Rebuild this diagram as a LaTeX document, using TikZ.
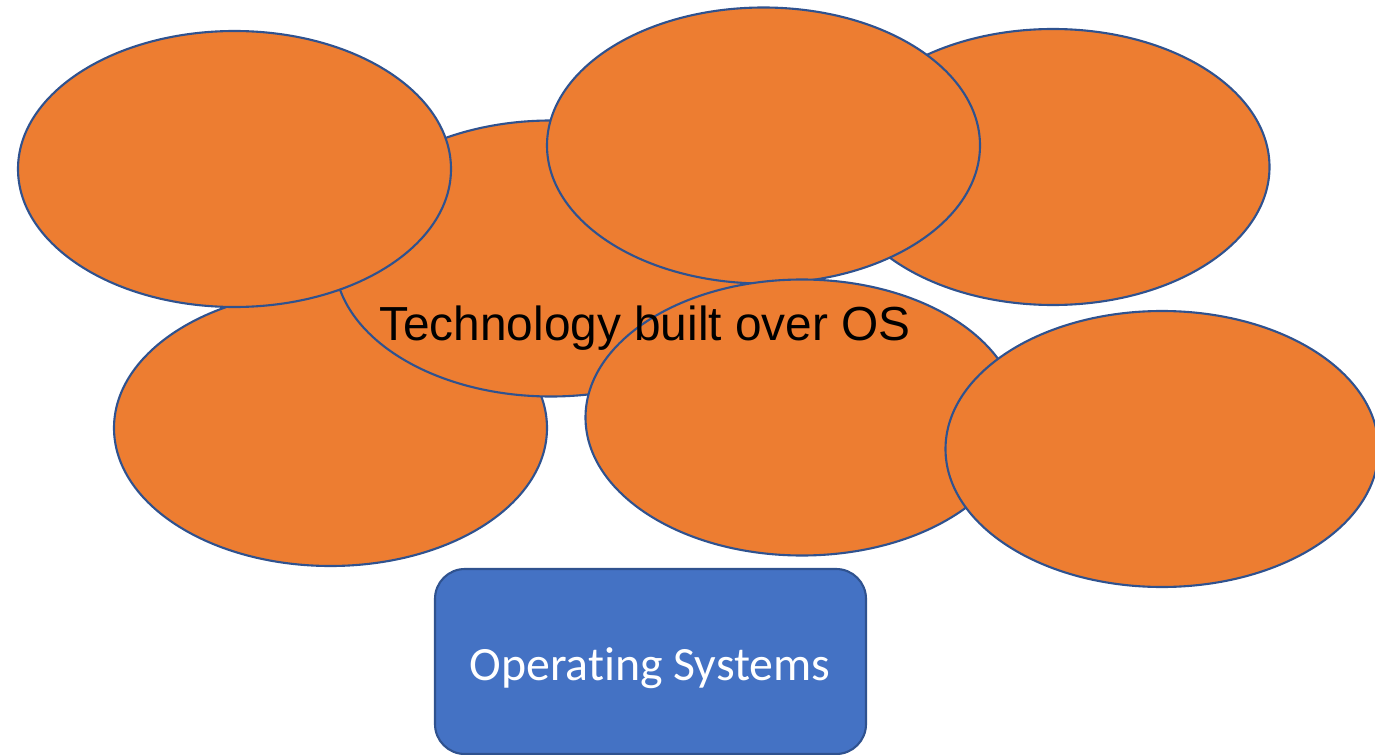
\documentclass[tikz,border=0pt]{standalone}
\usepackage{fontspec}
\usepackage{xcolor}
\usepackage{tikz}
\usetikzlibrary{positioning,shapes.geometric}

\newfontfamily\techfont{Liberation Sans}
\newfontfamily\osfont[Ligatures=NoCommon]{Carlito}

\definecolor{blobfill}{HTML}{ED7D31}
\definecolor{blobline}{HTML}{2F528F}
\definecolor{osfill}{HTML}{4472C4}

\begin{document}
\begin{tikzpicture}[
    blob/.style   ={ellipse, draw=blobline, fill=blobfill, line width=1.2pt,
                    minimum width=8.66cm, minimum height=5.52cm, inner sep=0pt},
    osbox/.style  ={draw=blobline, fill=osfill, line width=1.2pt, rounded corners=17pt,
                    minimum width=8.62cm, minimum height=3.70cm, inner sep=0pt},
    techlbl/.style={font=\techfont\fontsize{27.2}{32}\selectfont, text=black, anchor=base},
    oslbl/.style  ={font=\osfont\fontsize{27.2}{32}\selectfont, text=white, anchor=base}
]
\useasboundingbox (0,0) rectangle (27.5,-15.1);

% --- Technology blobs, back to front. ---
\node[blob] (lowleft)  at ( 6.61,-8.56) {};
\node[blob] (core)     at (11.02,-5.17) {};
\node[blob] (upleft)   at ( 4.69,-3.38) {};
\node[blob] (upright)  at (21.06,-3.34) {};
\node[blob] (upmid)    at (15.27,-2.91) {};
\node[blob] (lowmid)   at (16.04,-8.35) {};
\node[blob] (lowright) at (23.24,-8.98) {};

% --- Label sits on top of every blob. ---
\node[techlbl] (techtext) at (12.90,-6.80) {Technology built over OS};

% --- Operating system base. ---
\node[osbox] (os) at (13.01,-13.23) {};
\node[oslbl] (ostext) at (13.00,-13.60) {Operating Systems};

\end{tikzpicture}
\end{document}
